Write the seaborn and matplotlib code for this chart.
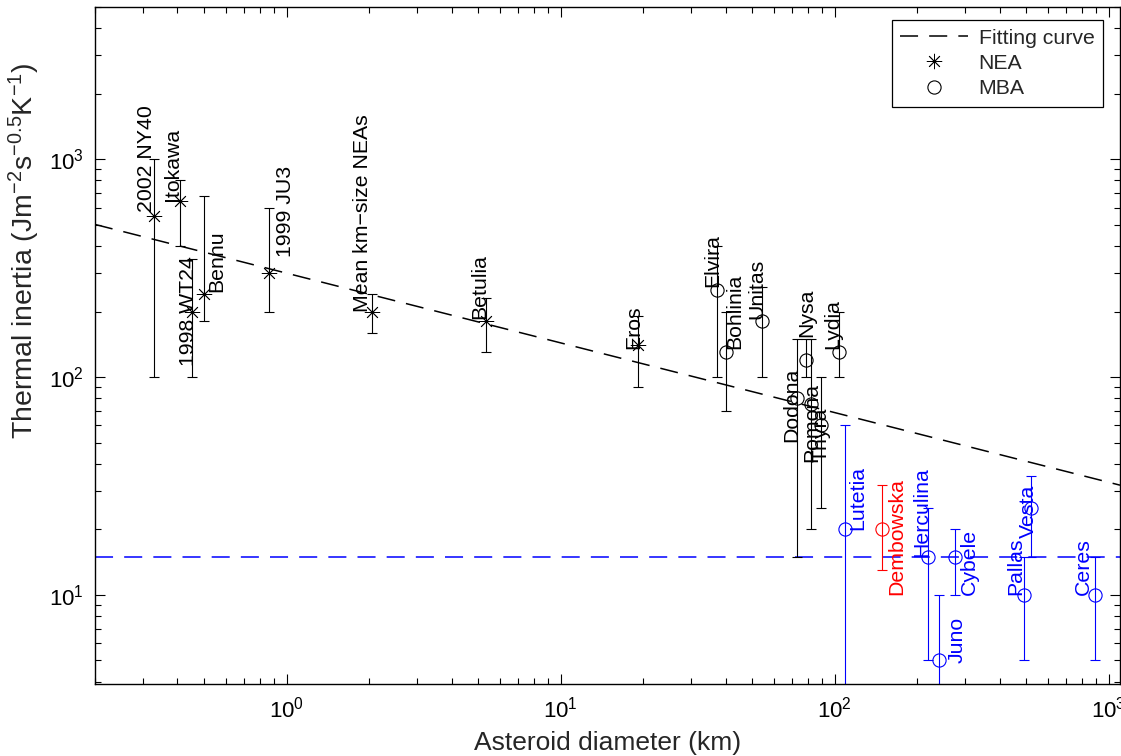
import numpy as np
import pandas as pd
import matplotlib
matplotlib.use("Agg")
import matplotlib.pyplot as plt
import seaborn as sns

# ---- Near-Earth asteroids (asterisks) ----
nea_names = ["2002 NY40", "Itokawa", "1998 WT24", "Bennu", "1999 JU3",
             "Mean km\u2212size NEAs", "Betulia", "Eros"]
nea_diam = [0.327, 0.41, 0.453, 0.50, 0.86, 2.05, 5.35, 19.1]
nea_ti = [550, 640, 200, 240, 300, 200, 180, 140]
nea_lo = [100, 400, 100, 180, 200, 160, 130, 90]
nea_hi = [1000, 800, 350, 680, 600, 240, 230, 190]

# ---- Main-belt asteroids (black circles) ----
mba_names = ["Elvira", "Bohlinia", "Unitas", "Dodona", "Nysa", "Pomona", "Thyra", "Lydia"]
mba_diam = [37.1, 40.0, 54.2, 73.0, 78.4, 82.0, 88.9, 104.0]
mba_ti = [250, 130, 180, 80, 120, 75, 60, 130]
mba_lo = [100, 70, 100, 15, 100, 20, 25, 100]
mba_hi = [400, 200, 260, 150, 150, 150, 100, 200]

# ---- Large main-belt asteroids (coloured circles) ----
big_names = ["Lutetia", "Dembowska", "Herculina", "Juno", "Cybele", "Pallas", "Vesta", "Ceres"]
big_diam = [109, 149, 219, 241, 274, 493, 519, 889]
big_ti = [20, 20, 15, 5, 15, 10, 25, 10]
big_lo = [1, 13, 5, 1, 10, 5, 15, 5]
big_hi = [60, 32, 25, 10, 20, 15, 35, 15]
big_colors = ["blue", "red", "blue", "blue", "blue", "blue", "blue", "blue"]

# ---- Fit Gamma = coef * D^exp and reference level ----
fit_coef = 300.0
fit_exp = -0.32
ref_level = 15

# ---- Axis ranges ----
x_range = (0.2, 1100)
y_range = (3.9, 5000)

# Label anchor points (diameter, inertia) for the rotated names
nea_label_pos = [(0.324, 571), (0.403, 641), (0.458, 112), (0.584, 245),
                 (1.034, 354), (1.99, 200), (5.33, 184), (19.3, 134)]
mba_label_pos = [(37.7, 258), (45.4, 134), (54.6, 184), (73.3, 50.5),
                 (83.1, 152), (86.7, 40.9), (93.5, 40.9), (103.4, 134)]
big_label_pos = [(127.6, 19.9), (177, 10), (218, 14.9), (293, 4.87),
                 (324, 10), (481, 10), (532, 18.3), (845, 10)]

sns.set_style("ticks")
plt.rcParams["font.family"] = ["Liberation Sans", "DejaVu Sans"]
plt.rcParams["mathtext.fontset"] = "custom"
plt.rcParams["mathtext.rm"] = "Liberation Sans"
plt.rcParams["mathtext.it"] = "Liberation Sans:italic"
plt.rcParams["mathtext.bf"] = "Liberation Sans:bold"
plt.rcParams["axes.linewidth"] = 1.0

W, H = 1121, 756
fig = plt.figure(figsize=(W / 100, H / 100), dpi=100)
ax = fig.add_axes([95 / W, 1 - 684 / H, (1120 - 95) / W, (684 - 7) / H])
ax.set_xscale("log")
ax.set_yscale("log")

lw_fit = 1.1
dash = (13.0 / lw_fit, 8.0 / lw_fit)

# fitting curve across the whole diameter range
fit_df = pd.DataFrame({"D": list(x_range)})
fit_df["TI"] = fit_coef * fit_df["D"] ** fit_exp
sns.lineplot(data=fit_df, x="D", y="TI", ax=ax, color="black", lw=lw_fit,
             dashes=False, label="Fitting curve")
ax.lines[-1].set_dashes(dash)

ref_df = pd.DataFrame({"D": list(x_range), "TI": [ref_level, ref_level]})
sns.lineplot(data=ref_df, x="D", y="TI", ax=ax, color="blue", lw=lw_fit,
             legend=False)
ax.lines[-1].set_dashes(dash)

err_kw = dict(fmt="none", elinewidth=0.8, capsize=3.8, capthick=0.8, zorder=2)

# error bars
ax.errorbar(nea_diam, nea_ti,
            yerr=[np.subtract(nea_ti, nea_lo), np.subtract(nea_hi, nea_ti)],
            ecolor="black", **err_kw)
ax.errorbar(mba_diam, mba_ti,
            yerr=[np.subtract(mba_ti, mba_lo), np.subtract(mba_hi, mba_ti)],
            ecolor="black", **err_kw)
for d, t, lo, hi, c in zip(big_diam, big_ti, big_lo, big_hi, big_colors):
    ax.errorbar([d], [t], yerr=[[t - lo], [hi - t]], ecolor=c, **err_kw)

# markers
nea_df = pd.DataFrame({"D": nea_diam, "TI": nea_ti})
sns.lineplot(data=nea_df, x="D", y="TI", ax=ax, linestyle="", marker=(8, 2, 0),
             markersize=11, color="black", markeredgecolor="black",
             markeredgewidth=0.6, estimator=None, sort=False, label="NEA")
mba_df = pd.DataFrame({"D": mba_diam, "TI": mba_ti})
sns.lineplot(data=mba_df, x="D", y="TI", ax=ax, linestyle="", marker="o",
             markersize=9.5, color="black", markerfacecolor="none",
             markeredgecolor="black", markeredgewidth=0.8, estimator=None,
             sort=False, label="MBA")
big_df = pd.DataFrame({"D": big_diam, "TI": big_ti, "c": big_colors})
for c, sub in big_df.groupby("c"):
    sns.lineplot(data=sub, x="D", y="TI", ax=ax, linestyle="", marker="o",
                 markersize=9.5, color=c, markerfacecolor="none",
                 markeredgecolor=c, markeredgewidth=0.8, estimator=None,
                 sort=False, legend=False)

# rotated names
fs_lab = 15.3
txt_kw = dict(rotation=90, rotation_mode="anchor", ha="left", va="baseline",
              fontsize=fs_lab)
for name, (x, y) in zip(nea_names, nea_label_pos):
    ax.text(x, y, name, color="black", **txt_kw)
for name, (x, y) in zip(mba_names, mba_label_pos):
    ax.text(x, y, name, color="black", **txt_kw)
for name, (x, y), c in zip(big_names, big_label_pos, big_colors):
    ax.text(x, y, name, color=c, **txt_kw)

ax.set_xlim(*x_range)
ax.set_ylim(*y_range)
ax.tick_params(which="both", direction="in", top=True, right=True,
               labelsize=16, width=0.8, colors="black")
ax.tick_params(which="major", length=7)
ax.tick_params(which="minor", length=4)
ax.tick_params(axis="x", which="major", pad=9)
ax.tick_params(axis="y", which="major", pad=8)
ax.xaxis.set_minor_formatter(matplotlib.ticker.NullFormatter())
ax.yaxis.set_minor_formatter(matplotlib.ticker.NullFormatter())
for s in ax.spines.values():
    s.set_color("black")

ax.set_xlabel("Asteroid diameter (km)", fontsize=19, labelpad=6)
ax.set_ylabel("Thermal inertia (Jm$^{-2}$s$^{-0.5}$K$^{-1}$)", fontsize=20.5)
ax.yaxis.set_label_coords(-0.052, 0.64)

handles, labels = ax.get_legend_handles_labels()
leg = ax.legend(handles, labels, loc="upper right",
                bbox_to_anchor=(1103 / W, 1 - 20 / H), bbox_transform=fig.transFigure,
                borderaxespad=0, fontsize=15.3, frameon=True, fancybox=False,
                framealpha=1, edgecolor="black", handlelength=3.2,
                labelspacing=0.3, numpoints=1, borderpad=0.4, handletextpad=0.5)
leg.get_frame().set_linewidth(0.9)

fig.savefig("out.png", dpi=100)
